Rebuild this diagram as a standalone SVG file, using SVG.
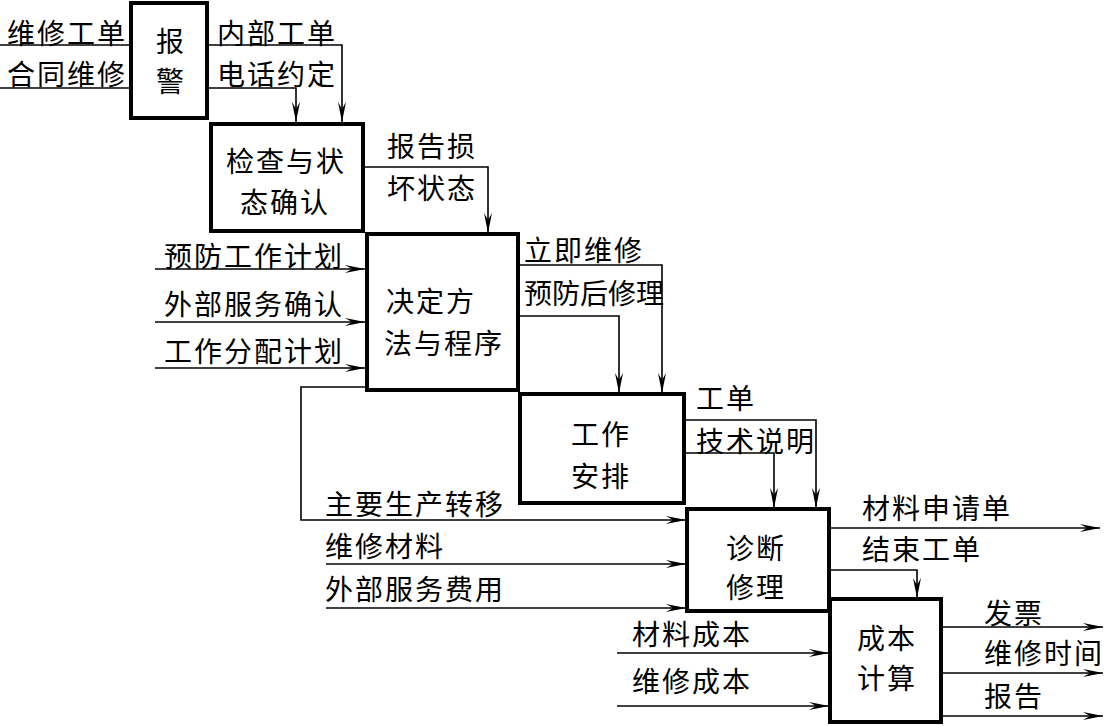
<svg xmlns="http://www.w3.org/2000/svg" width="1105" height="726" viewBox="0 0 1105 726">
<style>
.box{fill:#fff;stroke:#000;stroke-width:4}
.c{fill:none;stroke:#000;stroke-width:1.6}
.t{font-family:"Noto Sans CJK SC","Noto Sans CJK JP",sans-serif;font-size:28px;letter-spacing:2px;fill:#000}
.n{letter-spacing:0}
</style>
<defs>
<marker id="ar" viewBox="0 0 20 10" markerUnits="userSpaceOnUse" markerWidth="20" markerHeight="10" refX="20" refY="5" orient="auto">
<path d="M0,1 L20,5 L0,9 L7,5 Z" fill="#000"/>
</marker>
</defs>
<rect width="1105" height="726" fill="#fff"/>
<g id="connectors">
<path class="c" d="M0,45 H129"/>
<path class="c" d="M0,88 H129"/>
<path class="c" d="M209,45 H342 V122" marker-end="url(#ar)"/>
<path class="c" d="M209,88 H296 V122" marker-end="url(#ar)"/>
<path class="c" d="M365,167 H488 V233" marker-end="url(#ar)"/>
<path class="c" d="M155,269 H365" marker-end="url(#ar)"/>
<path class="c" d="M155,322 H365" marker-end="url(#ar)"/>
<path class="c" d="M155,368 H365" marker-end="url(#ar)"/>
<path class="c" d="M519,265 H662 V393" marker-end="url(#ar)"/>
<path class="c" d="M519,316 H619 V393" marker-end="url(#ar)"/>
<path class="c" d="M686,420 H816 V508" marker-end="url(#ar)"/>
<path class="c" d="M686,453 H774 V508" marker-end="url(#ar)"/>
<path class="c" d="M366,387 H301 V520 H686" marker-end="url(#ar)"/>
<path class="c" d="M326,564 H686" marker-end="url(#ar)"/>
<path class="c" d="M326,608 H686" marker-end="url(#ar)"/>
<path class="c" d="M830,528 H1100" marker-end="url(#ar)"/>
<path class="c" d="M830,570 H917 V598" marker-end="url(#ar)"/>
<path class="c" d="M617,653 H829" marker-end="url(#ar)"/>
<path class="c" d="M617,706 H829" marker-end="url(#ar)"/>
<path class="c" d="M942,627 H1103" marker-end="url(#ar)"/>
<path class="c" d="M942,673 H1103" marker-end="url(#ar)"/>
<path class="c" d="M942,716 H1103" marker-end="url(#ar)"/>
</g>
<g id="labels">
<text class="t" x="7" y="44">维修工单</text>
<text class="t" x="7" y="85">合同维修</text>
<text class="t" x="217" y="44">内部工单</text>
<text class="t" x="217" y="85">电话约定</text>
<text class="t" x="387" y="157">报告损</text>
<text class="t" x="387" y="199">坏状态</text>
<text class="t" x="164" y="267">预防工作计划</text>
<text class="t" x="164" y="315">外部服务确认</text>
<text class="t" x="164" y="362">工作分配计划</text>
<text class="t" x="524" y="261">立即维修</text>
<text class="t n" x="524" y="304">预防后修理</text>
<text class="t" x="696" y="409">工单</text>
<text class="t" x="696" y="452">技术说明</text>
<text class="t" x="325" y="515">主要生产转移</text>
<text class="t" x="325" y="557">维修材料</text>
<text class="t" x="325" y="600">外部服务费用</text>
<text class="t" x="862" y="519">材料申请单</text>
<text class="t" x="862" y="560">结束工单</text>
<text class="t" x="632" y="645">材料成本</text>
<text class="t" x="632" y="692">维修成本</text>
<text class="t" x="984" y="624">发票</text>
<text class="t" x="984" y="664">维修时间</text>
<text class="t" x="984" y="707">报告</text>
</g>
<g id="node-alarm">
<rect class="box" x="131" y="3" width="76" height="115"/>
<text class="t" x="156" y="52">报</text>
<text class="t" x="156" y="92">警</text>
</g>
<g id="node-inspect">
<rect class="box" x="211" y="124" width="152" height="107"/>
<text class="t" x="226" y="172">检查与状</text>
<text class="t" x="240" y="213">态确认</text>
</g>
<g id="node-decide">
<rect class="box" x="367" y="234" width="151" height="156"/>
<text class="t" x="386" y="312">决定方</text>
<text class="t" x="384" y="354">法与程序</text>
</g>
<g id="node-schedule">
<rect class="box" x="520" y="394" width="164" height="109"/>
<text class="t" x="571" y="445">工作</text>
<text class="t" x="571" y="487">安排</text>
</g>
<g id="node-repair">
<rect class="box" x="687" y="509" width="142" height="102"/>
<text class="t" x="726" y="559">诊断</text>
<text class="t" x="726" y="598">修理</text>
</g>
<g id="node-cost">
<rect class="box" x="830" y="599" width="111" height="123"/>
<text class="t" x="857" y="649">成本</text>
<text class="t" x="857" y="689">计算</text>
</g>
</svg>
